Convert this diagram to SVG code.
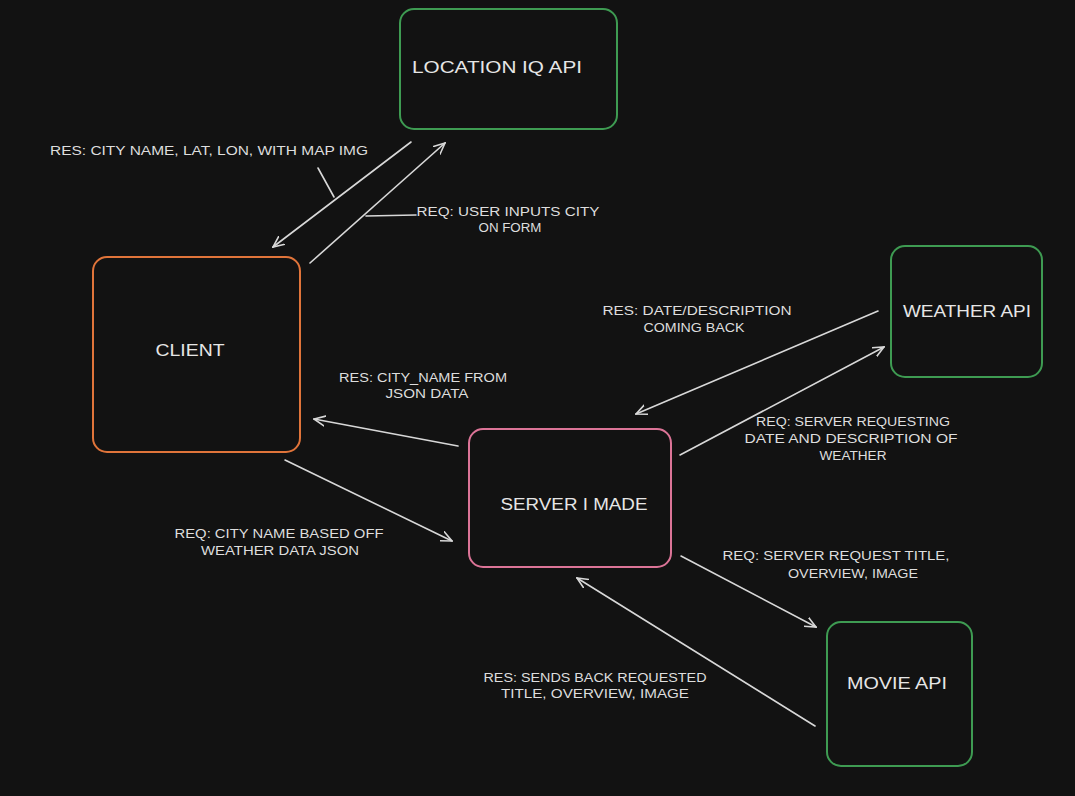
<svg xmlns="http://www.w3.org/2000/svg" width="1075" height="796" viewBox="0 0 1075 796">
<style>
.bg{fill:#121212}
.node{fill:#121212;stroke-width:2}
.g{stroke:#3e9b52}
.o{stroke:#e0743a}
.p{stroke:#dc7497}
.nl{font-family:"Liberation Sans",sans-serif;font-size:16px;fill:#e6e6e6;text-anchor:middle}
.el{font-family:"Liberation Sans",sans-serif;font-size:12px;fill:#dedede;text-anchor:middle}
.c{stroke:#d8d8d8;stroke-width:1.6;fill:none;stroke-linecap:round}
</style>
<defs>
<marker id="ah" viewBox="0 0 12 12" refX="11" refY="6" markerWidth="12" markerHeight="12" markerUnits="userSpaceOnUse" orient="auto">
<path d="M0,1 L11,6 L0,11" fill="none" stroke="#d8d8d8" stroke-width="1.6" stroke-linecap="round"/>
</marker>
</defs>
<rect class="bg" x="0" y="0" width="1075" height="796"/>

<g id="location-iq-api">
<rect class="node g" x="400" y="9" width="217" height="120" rx="14"/>
<text class="nl" x="497" y="73" textLength="170" lengthAdjust="spacingAndGlyphs">LOCATION IQ API</text>
</g>
<g id="client">
<rect class="node o" x="93" y="257" width="207" height="195" rx="14"/>
<text class="nl" x="190" y="356" textLength="69" lengthAdjust="spacingAndGlyphs">CLIENT</text>
</g>
<g id="server">
<rect class="node p" x="469" y="429" width="202" height="138" rx="14"/>
<text class="nl" x="574" y="510" textLength="147" lengthAdjust="spacingAndGlyphs">SERVER I MADE</text>
</g>
<g id="weather-api">
<rect class="node g" x="891" y="246" width="151" height="131" rx="14"/>
<text class="nl" x="967" y="317" textLength="128" lengthAdjust="spacingAndGlyphs">WEATHER API</text>
</g>
<g id="movie-api">
<rect class="node g" x="827" y="622" width="145" height="144" rx="14"/>
<text class="nl" x="897" y="689" textLength="100" lengthAdjust="spacingAndGlyphs">MOVIE API</text>
</g>

<g id="connectors">
<line class="c" x1="411" y1="142" x2="273" y2="247" marker-end="url(#ah)"/>
<line class="c" x1="310" y1="263" x2="445" y2="143" marker-end="url(#ah)"/>
<line class="c" x1="318" y1="168" x2="334" y2="197"/>
<line class="c" x1="366" y1="216" x2="416" y2="215"/>
<line class="c" x1="878" y1="311" x2="636" y2="414" marker-end="url(#ah)"/>
<line class="c" x1="680" y1="455" x2="884" y2="347" marker-end="url(#ah)"/>
<line class="c" x1="458" y1="446" x2="314" y2="419" marker-end="url(#ah)"/>
<line class="c" x1="285" y1="460" x2="452" y2="541" marker-end="url(#ah)"/>
<line class="c" x1="681" y1="556" x2="816" y2="627" marker-end="url(#ah)"/>
<line class="c" x1="815" y1="726" x2="577" y2="578" marker-end="url(#ah)"/>
</g>

<g id="labels">
<text class="el" x="209" y="155" textLength="318" lengthAdjust="spacingAndGlyphs">RES: CITY NAME, LAT, LON, WITH MAP IMG</text>
<text class="el" x="508" y="216" textLength="183" lengthAdjust="spacingAndGlyphs">REQ: USER INPUTS CITY</text>
<text class="el" x="510" y="232" textLength="63" lengthAdjust="spacingAndGlyphs">ON FORM</text>
<text class="el" x="697" y="315" textLength="189" lengthAdjust="spacingAndGlyphs">RES: DATE/DESCRIPTION</text>
<text class="el" x="694" y="332" textLength="101" lengthAdjust="spacingAndGlyphs">COMING BACK</text>
<text class="el" x="423" y="382" textLength="168" lengthAdjust="spacingAndGlyphs">RES: CITY_NAME FROM</text>
<text class="el" x="427" y="398" textLength="83" lengthAdjust="spacingAndGlyphs">JSON DATA</text>
<text class="el" x="853" y="426" textLength="194" lengthAdjust="spacingAndGlyphs">REQ: SERVER REQUESTING</text>
<text class="el" x="851" y="443" textLength="213" lengthAdjust="spacingAndGlyphs">DATE AND DESCRIPTION OF</text>
<text class="el" x="853" y="460" textLength="67" lengthAdjust="spacingAndGlyphs">WEATHER</text>
<text class="el" x="279" y="538" textLength="209" lengthAdjust="spacingAndGlyphs">REQ: CITY NAME BASED OFF</text>
<text class="el" x="280" y="555" textLength="158" lengthAdjust="spacingAndGlyphs">WEATHER DATA JSON</text>
<text class="el" x="836" y="560" textLength="227" lengthAdjust="spacingAndGlyphs">REQ: SERVER REQUEST TITLE,</text>
<text class="el" x="853" y="578" textLength="130" lengthAdjust="spacingAndGlyphs">OVERVIEW, IMAGE</text>
<text class="el" x="595" y="682" textLength="223" lengthAdjust="spacingAndGlyphs">RES: SENDS BACK REQUESTED</text>
<text class="el" x="595" y="698" textLength="188" lengthAdjust="spacingAndGlyphs">TITLE, OVERVIEW, IMAGE</text>
</g>
</svg>
